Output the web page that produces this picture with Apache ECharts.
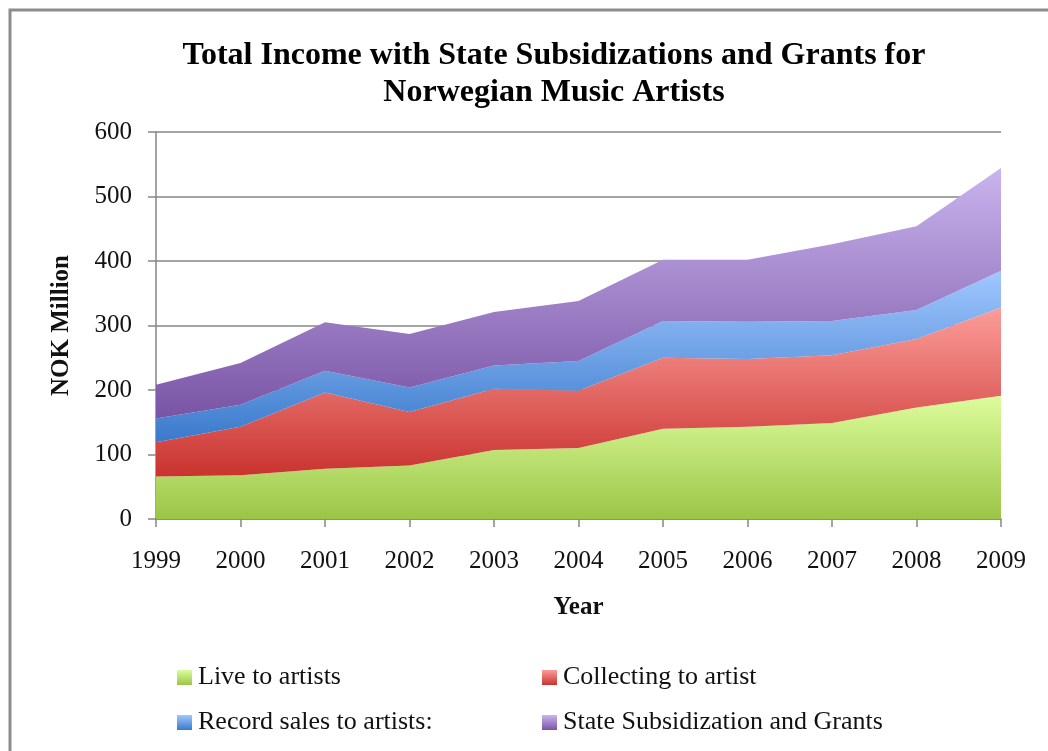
<!DOCTYPE html>
<html>
<head>
<meta charset="utf-8">
<title>Total Income with State Subsidizations and Grants for Norwegian Music Artists</title>
<script src="https://cdn.jsdelivr.net/npm/echarts@6/dist/echarts.min.js"></script>
<style>
  html, body { margin: 0; padding: 0; background: #ffffff; }
  #chart { width: 1048px; height: 751px; }
</style>
</head>
<body>
<div id="chart"></div>
<script>
// Years on the category axis
const years = ['1999', '2000', '2001', '2002', '2003', '2004', '2005', '2006', '2007', '2008', '2009'];

// Income components, NOK million (stacked in this order)
const liveToArtists = [66, 68, 78, 83, 107, 110, 140, 143, 149, 173, 191];
const collectingToArtist = [53, 75, 118, 83, 95, 89, 110, 105, 105, 106, 137];
const recordSalesToArtists = [37, 34, 34, 38, 36, 46, 57, 58, 53, 45, 57];
const stateSubsidization = [52, 65, 75, 83, 83, 93, 95, 96, 119, 130, 159];

const seriesNames = ['Live to artists', 'Collecting to artist', 'Record sales to artists:', 'State Subsidization and Grants'];

const serifFont = '"Liberation Serif", "DejaVu Serif", serif';

// vertical gradient: light at the top of each band, darker at the bottom
function grad(top, bottom) {
  return new echarts.graphic.LinearGradient(0, 0, 0, 1, [
    { offset: 0, color: top },
    { offset: 1, color: bottom }
  ]);
}
const palette = [
  ['#dcfc9c', '#9bc546'],
  ['#fc9d99', '#c9332f'],
  ['#a0c7ff', '#3a7acb'],
  ['#c9b4ee', '#7954a5']
];

const values = [liveToArtists, collectingToArtist, recordSalesToArtists, stateSubsidization];

const series = seriesNames.map((name, i) => ({
  name: name,
  type: 'line',
  stack: 'income',
  data: values[i],
  showSymbol: false,
  symbol: 'none',
  lineStyle: { width: 0, opacity: 0 },
  itemStyle: { color: palette[i][1] },
  areaStyle: { color: grad(palette[i][0], palette[i][1]), opacity: 1 },
  emphasis: { disabled: true }
}));

// one legend block per entry, laid out as a 2 x 2 table
const legendSlots = [
  { left: 172, top: 659 },
  { left: 537, top: 659 },
  { left: 172, top: 704 },
  { left: 537, top: 704 }
];
const legends = seriesNames.map((name, i) => ({
  left: legendSlots[i].left,
  top: legendSlots[i].top,
  orient: 'horizontal',
  itemWidth: 15,
  itemHeight: 15,
  selectedMode: false,
  textStyle: { fontFamily: serifFont, fontSize: 26, color: '#111111', lineHeight: 27, padding: [0, 0, 0, 1] },
  data: [{ name: name, icon: 'rect', itemStyle: { color: grad(palette[i][0], palette[i][1]) } }]
}));

const chart = echarts.init(document.getElementById('chart'), null, { renderer: 'canvas' });

chart.setOption({
  animation: false,
  backgroundColor: '#ffffff',
  grid: { left: 156, right: 47, top: 132, bottom: 232, containLabel: false },
  legend: legends,
  xAxis: {
    type: 'category',
    data: years,
    boundaryGap: false,
    axisLine: { show: true, lineStyle: { color: '#868686', width: 1.5 } },
    axisTick: { show: true, alignWithLabel: true, length: 8, lineStyle: { color: '#868686', width: 1.5 } },
    axisLabel: { fontFamily: serifFont, fontSize: 25, color: '#111111', margin: 30 },
    name: 'Year',
    nameLocation: 'middle',
    nameGap: 76,
    nameTextStyle: { fontFamily: serifFont, fontSize: 25, fontWeight: 'bold', color: '#111111' }
  },
  yAxis: {
    type: 'value',
    min: 0,
    max: 600,
    interval: 100,
    axisLine: { show: true, lineStyle: { color: '#868686', width: 1.5 } },
    axisTick: { show: true, length: 8, lineStyle: { color: '#868686', width: 1.5 } },
    axisLabel: { fontFamily: serifFont, fontSize: 25, color: '#111111', margin: 24 },
    splitLine: { show: true, lineStyle: { color: '#868686', width: 1.5 } },
    name: 'NOK Million',
    nameLocation: 'middle',
    nameGap: 82,
    nameRotate: 90,
    nameTextStyle: { fontFamily: serifFont, fontSize: 25, fontWeight: 'bold', color: '#111111' }
  },
  graphic: [
    {
      type: 'rect',
      shape: { x: 10, y: 10, width: 1200, height: 1000 },
      style: { fill: null, stroke: '#8c8c8c', lineWidth: 3 },
      silent: true,
      z: 0
    },
    {
      type: 'text',
      x: 554,
      y: 37,
      style: {
        text: 'Total Income with State Subsidizations and Grants for\nNorwegian Music Artists',
        fontFamily: serifFont,
        fontSize: 32,
        fontWeight: 'bold',
        lineHeight: 37,
        fill: '#000000',
        align: 'center',
        verticalAlign: 'top'
      },
      silent: true,
      z: 10
    }
  ],
  series: series
});
</script>
</body>
</html>
